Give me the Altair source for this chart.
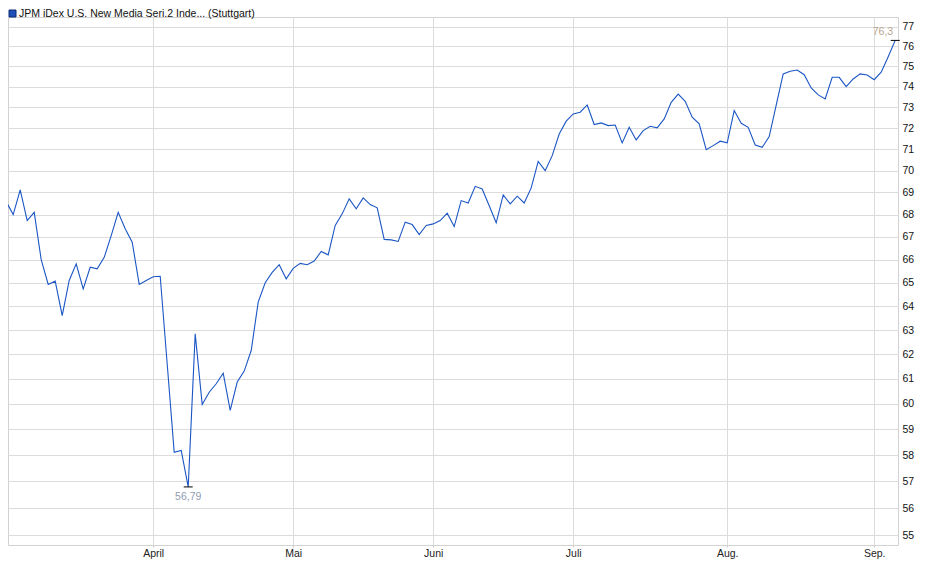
import altair as alt
import pandas as pd

# ---- data ----
values = [
    68.58, 68.00, 69.12, 67.73, 68.10, 66.00, 64.93, 65.07, 63.60, 65.10,
    65.82, 64.74, 65.67, 65.60, 66.10, 67.06, 68.10, 67.36, 66.77, 64.93,
    65.10, 65.26, 65.28, 61.60, 58.11, 58.18, 56.79, 62.84, 59.97, 60.46,
    60.80, 61.23, 59.74, 60.87, 61.31, 62.15, 64.17, 65.00, 65.45, 65.78,
    65.17, 65.62, 65.84, 65.78, 65.94, 66.36, 66.21, 67.51, 68.03, 68.71,
    68.26, 68.75, 68.45, 68.30, 66.89, 66.87, 66.80, 67.66, 67.55, 67.10,
    67.51, 67.58, 67.73, 68.06, 67.46, 68.63, 68.52, 69.28, 69.16, 68.40,
    67.63, 68.89, 68.48, 68.83, 68.52, 69.21, 70.43, 70.00, 70.70, 71.72,
    72.33, 72.68, 72.76, 73.11, 72.17, 72.25, 72.12, 72.15, 71.30, 72.04,
    71.44, 71.88, 72.09, 72.01, 72.44, 73.24, 73.64, 73.29, 72.52, 72.20,
    70.98, 71.17, 71.38, 71.30, 72.84, 72.23, 72.04, 71.20, 71.09, 71.60,
    73.10, 74.63, 74.76, 74.82, 74.59, 73.94, 73.60, 73.40, 74.46, 74.46,
    74.00, 74.38, 74.63, 74.57, 74.34, 74.71, 75.48, 76.30,
]
month_ticks = [21, 41, 61, 81, 103, 124]          # first trading day of each month (index)
month_labels = ["April", "Mai", "Juni", "Juli", "Aug.", "Sep."]
y_ticks = list(range(55, 78))
legend_text = "JPM iDex U.S. New Media Seri.2 Inde... (Stuttgart)"

FONT = "Liberation Sans"
LINE_COLOR = "#1b56c4"
GRID = "#dcdcdc"


def de_fmt(v):
    s = f"{v:.2f}".rstrip("0").rstrip(".")
    return s.replace(".", ",")


df = pd.DataFrame({"i": list(range(len(values))), "v": values})
imin = values.index(min(values))
imax = values.index(max(values))
df_min = pd.DataFrame({"i": [imin], "v": [values[imin]], "label": [de_fmt(values[imin])]})
df_max = pd.DataFrame({"i": [imax], "v": [values[imax]], "label": [de_fmt(values[imax])]})
df_leg = pd.DataFrame({"t": [legend_text]})

label_expr = " : ".join(
    f"datum.value == {t} ? '{l}'" for t, l in zip(month_ticks, month_labels)
) + " : ''"

x_enc = alt.X(
    "i:Q",
    title=None,
    scale=alt.Scale(domain=[0.257, 127.4], nice=False, zero=False),
    axis=alt.Axis(
        values=month_ticks, labelExpr=label_expr, grid=True, gridColor=GRID,
        gridWidth=1, ticks=True, tickSize=2, tickColor="#c8c8c8", domain=False,
        labelFont=FONT, labelFontSize=10.5, labelColor="#222222",
        labelPadding=1.5, labelFlush=False, labelOverlap=False, labelBaseline="top",
    ),
)
y_enc = alt.Y(
    "v:Q",
    title=None,
    scale=alt.Scale(type="log", domain=[54.65, 77.49], nice=False),
    axis=alt.Axis(
        orient="right", values=y_ticks, format="d", grid=True, gridColor=GRID,
        gridWidth=1, ticks=False, domain=False, labelPadding=4,
        labelFont=FONT, labelFontSize=10.5, labelColor="#111111",
        labelOverlap=False, labelFlush=False,
    ),
)

line = alt.Chart(df).mark_line(color=LINE_COLOR, strokeWidth=1.1, clip=True).encode(x=x_enc, y=y_enc)

min_tick = alt.Chart(df_min).mark_tick(orient="horizontal", size=9, thickness=1, color="#000000", opacity=1).encode(x=x_enc, y=y_enc)
max_tick = alt.Chart(df_max).mark_tick(orient="horizontal", size=9, thickness=1, color="#000000", opacity=1).encode(x=x_enc, y=y_enc)

min_text = alt.Chart(df_min).mark_text(
    font=FONT, fontSize=10.5, color="#8f9bb3", align="center", baseline="middle", dy=10.5
).encode(x=x_enc, y=y_enc, text="label:N")
max_text = alt.Chart(df_max).mark_text(
    font=FONT, fontSize=10.5, color="#b9a690", align="right", baseline="middle", dx=-2, dy=-8
).encode(x=x_enc, y=y_enc, text="label:N")

leg_square = alt.Chart(df_leg).mark_square(
    filled=True, size=49, color="#1f4fb8", stroke="#0e2c75", strokeWidth=1, opacity=1
).encode(x=alt.value(4.5), y=alt.value(-3.5))
leg_text = alt.Chart(df_leg).mark_text(
    font=FONT, fontSize=10.5, color="#111111", align="left", baseline="middle"
).encode(x=alt.value(11), y=alt.value(-3), text="t:N")

chart = (
    alt.layer(line, min_tick, max_tick, min_text, max_text, leg_square, leg_text)
    .properties(
        width=890, height=528,
        padding={"left": 0, "top": 9, "right": 34, "bottom": 26},
        autosize=alt.AutoSizeParams(type="none"),
        background="white",
    )
    .configure_view(stroke="#d2d2d2", strokeWidth=1)
)

chart.save("out.html", embed_options={"renderer": "svg", "actions": False})
